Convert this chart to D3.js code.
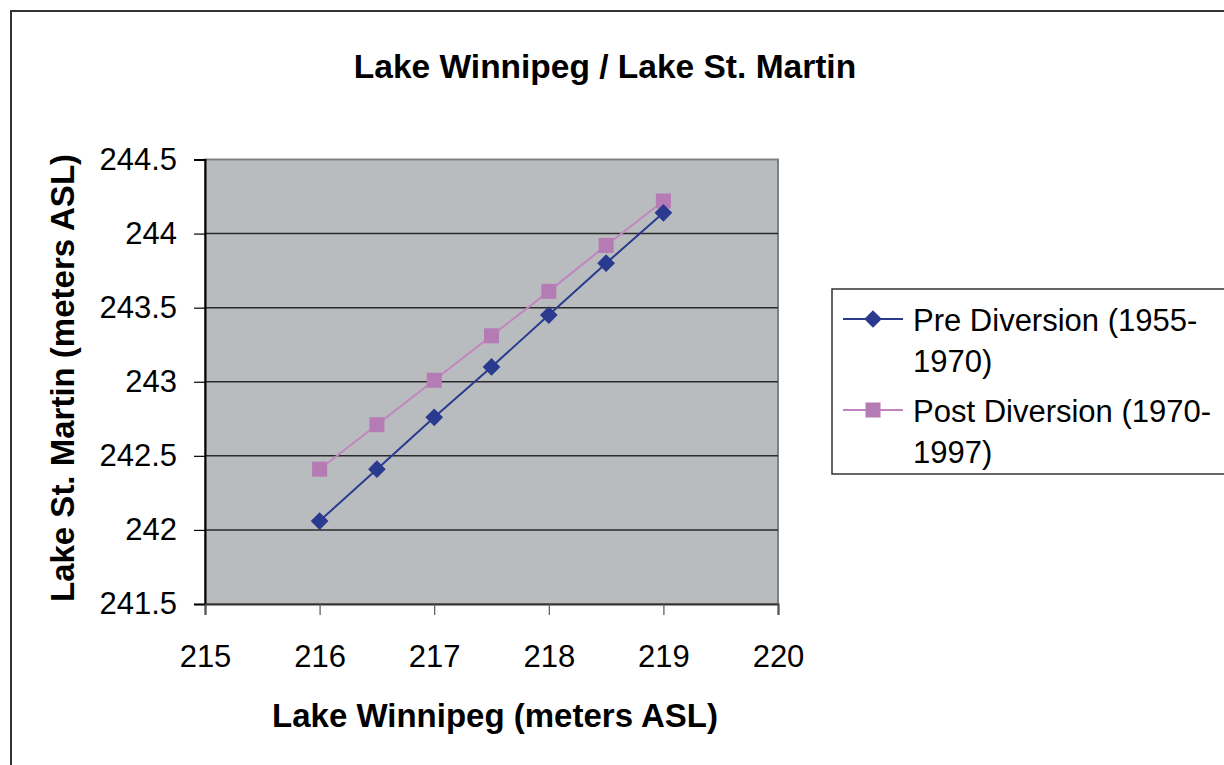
<!DOCTYPE html>
<html>
<head>
<meta charset="utf-8">
<script src="https://cdn.jsdelivr.net/npm/d3@7"></script>
<style>
  html, body { margin: 0; padding: 0; background: #fff; }
  svg { display: block; font-family: "Liberation Sans", Arial, sans-serif; }
</style>
</head>
<body>
<svg id="chart" width="1224" height="765"></svg>
<script>
// Lake Winnipeg level (x) vs Lake St. Martin level (y), meters ASL
const winnipegLevels = [216, 216.5, 217, 217.5, 218, 218.5, 219];
const preDiversion  = [242.06, 242.41, 242.76, 243.10, 243.45, 243.80, 244.14];
const postDiversion = [242.41, 242.71, 243.01, 243.31, 243.61, 243.92, 244.22];
const xTicks = [215, 216, 217, 218, 219, 220];
const yTicks = [241.5, 242, 242.5, 243, 243.5, 244, 244.5];
const seriesNames = ["Pre Diversion (1955-1970)", "Post Diversion (1970-1997)"];

const svg = d3.select("#chart");
const plot = { left: 205, top: 159.5, right: 778, bottom: 604 };

// outer chart frame
svg.append("rect")
  .attr("x", 11).attr("y", 11).attr("width", 1400).attr("height", 900)
  .attr("fill", "#fff").attr("stroke", "#333").attr("stroke-width", 2);

const x = d3.scaleLinear().domain([215, 220]).range([plot.left, plot.right]);
const y = d3.scaleLinear().domain([241.5, 244.5]).range([plot.bottom, plot.top]);

// plot background
svg.append("rect")
  .attr("x", plot.left).attr("y", plot.top)
  .attr("width", plot.right - plot.left).attr("height", plot.bottom - plot.top)
  .attr("fill", "#B8BCBE").attr("stroke", "#808080").attr("stroke-width", 2);

// horizontal gridlines
svg.append("g").selectAll("line")
  .data(yTicks.slice(1, -1))
  .join("line")
  .attr("x1", plot.left).attr("x2", plot.right)
  .attr("y1", d => y(d)).attr("y2", d => y(d))
  .attr("stroke", "#2a2a2a").attr("stroke-width", 1.5);

// y axis
const yAxis = svg.append("g")
  .attr("transform", `translate(${plot.left},0)`)
  .call(d3.axisLeft(y).tickValues(yTicks).tickSize(11).tickPadding(17).tickFormat(d3.format("")));
yAxis.select(".domain").attr("stroke", "#000").attr("stroke-width", 2);
yAxis.selectAll(".tick line").attr("stroke", "#000").attr("stroke-width", 1.2);
yAxis.selectAll(".tick text").attr("font-size", 31).attr("fill", "#000")
  .attr("font-family", "Liberation Sans, Arial, sans-serif");

// x axis
const xAxis = svg.append("g")
  .attr("transform", `translate(0,${plot.bottom})`)
  .call(d3.axisBottom(x).tickValues(xTicks).tickSize(11).tickPadding(30).tickFormat(d3.format("")));
xAxis.select(".domain").attr("stroke", "#333").attr("stroke-width", 2);
xAxis.selectAll(".tick line").attr("stroke", "#555").attr("stroke-width", 1.2);
xAxis.selectAll(".tick text").attr("font-size", 31).attr("fill", "#000")
  .attr("font-family", "Liberation Sans, Arial, sans-serif");

// series lines and markers
const preColor = "#2A3A8F";
const postLine = "#C285C2";
const postFill = "#B57BB5";
const line = d3.line().x(d => x(d[0])).y(d => y(d[1]));
const prePts = winnipegLevels.map((v, i) => [v, preDiversion[i]]);
const postPts = winnipegLevels.map((v, i) => [v, postDiversion[i]]);

svg.append("path").datum(postPts).attr("d", line)
  .attr("fill", "none").attr("stroke", postLine).attr("stroke-width", 2);
svg.append("path").datum(prePts).attr("d", line)
  .attr("fill", "none").attr("stroke", preColor).attr("stroke-width", 2);

svg.append("g").selectAll("rect")
  .data(postPts).join("rect")
  .attr("x", d => x(d[0]) - 7.5).attr("y", d => y(d[1]) - 7.5)
  .attr("width", 15).attr("height", 15).attr("fill", postFill);

const diamond = d3.symbol().type(d3.symbolDiamond2).size(200);
svg.append("g").selectAll("path")
  .data(prePts).join("path")
  .attr("transform", d => `translate(${x(d[0])},${y(d[1])})`)
  .attr("d", diamond).attr("fill", preColor);

// titles
svg.append("text")
  .attr("x", 605).attr("y", 78).attr("text-anchor", "middle")
  .attr("font-size", 33.5).attr("font-weight", "bold").attr("fill", "#000")
  .text("Lake Winnipeg / Lake St. Martin");

svg.append("text")
  .attr("x", 495).attr("y", 727).attr("text-anchor", "middle")
  .attr("font-size", 33).attr("font-weight", "bold").attr("fill", "#000")
  .text("Lake Winnipeg (meters ASL)");

svg.append("text")
  .attr("transform", "translate(74,378) rotate(-90)").attr("text-anchor", "middle")
  .attr("font-size", 33).attr("font-weight", "bold").attr("fill", "#000")
  .text("Lake St. Martin (meters ASL)");

// legend
const legend = svg.append("g");
legend.append("rect")
  .attr("x", 832).attr("y", 289).attr("width", 500).attr("height", 185)
  .attr("fill", "#fff").attr("stroke", "#333").attr("stroke-width", 1.5);

const legendRows = [
  { lines: ["Pre Diversion (1955-", "1970)"], cy: 319, base: 331, stroke: preColor, kind: "diamond" },
  { lines: ["Post Diversion (1970-", "1997)"], cy: 410, base: 422, stroke: postLine, kind: "square" }
];
legendRows.forEach(r => {
  legend.append("line")
    .attr("x1", 843).attr("x2", 903).attr("y1", r.cy).attr("y2", r.cy)
    .attr("stroke", r.stroke).attr("stroke-width", 2);
  if (r.kind === "diamond") {
    legend.append("path").attr("transform", `translate(873,${r.cy})`)
      .attr("d", diamond).attr("fill", preColor);
  } else {
    legend.append("rect").attr("x", 865.5).attr("y", r.cy - 7.5)
      .attr("width", 15).attr("height", 15).attr("fill", postFill);
  }
  const t = legend.append("text").attr("x", 913).attr("y", r.base)
    .attr("font-size", 31).attr("fill", "#000");
  r.lines.forEach((s, i) => {
    t.append("tspan").attr("x", 913).attr("dy", i === 0 ? 0 : 41).text(s);
  });
});
</script>
</body>
</html>
